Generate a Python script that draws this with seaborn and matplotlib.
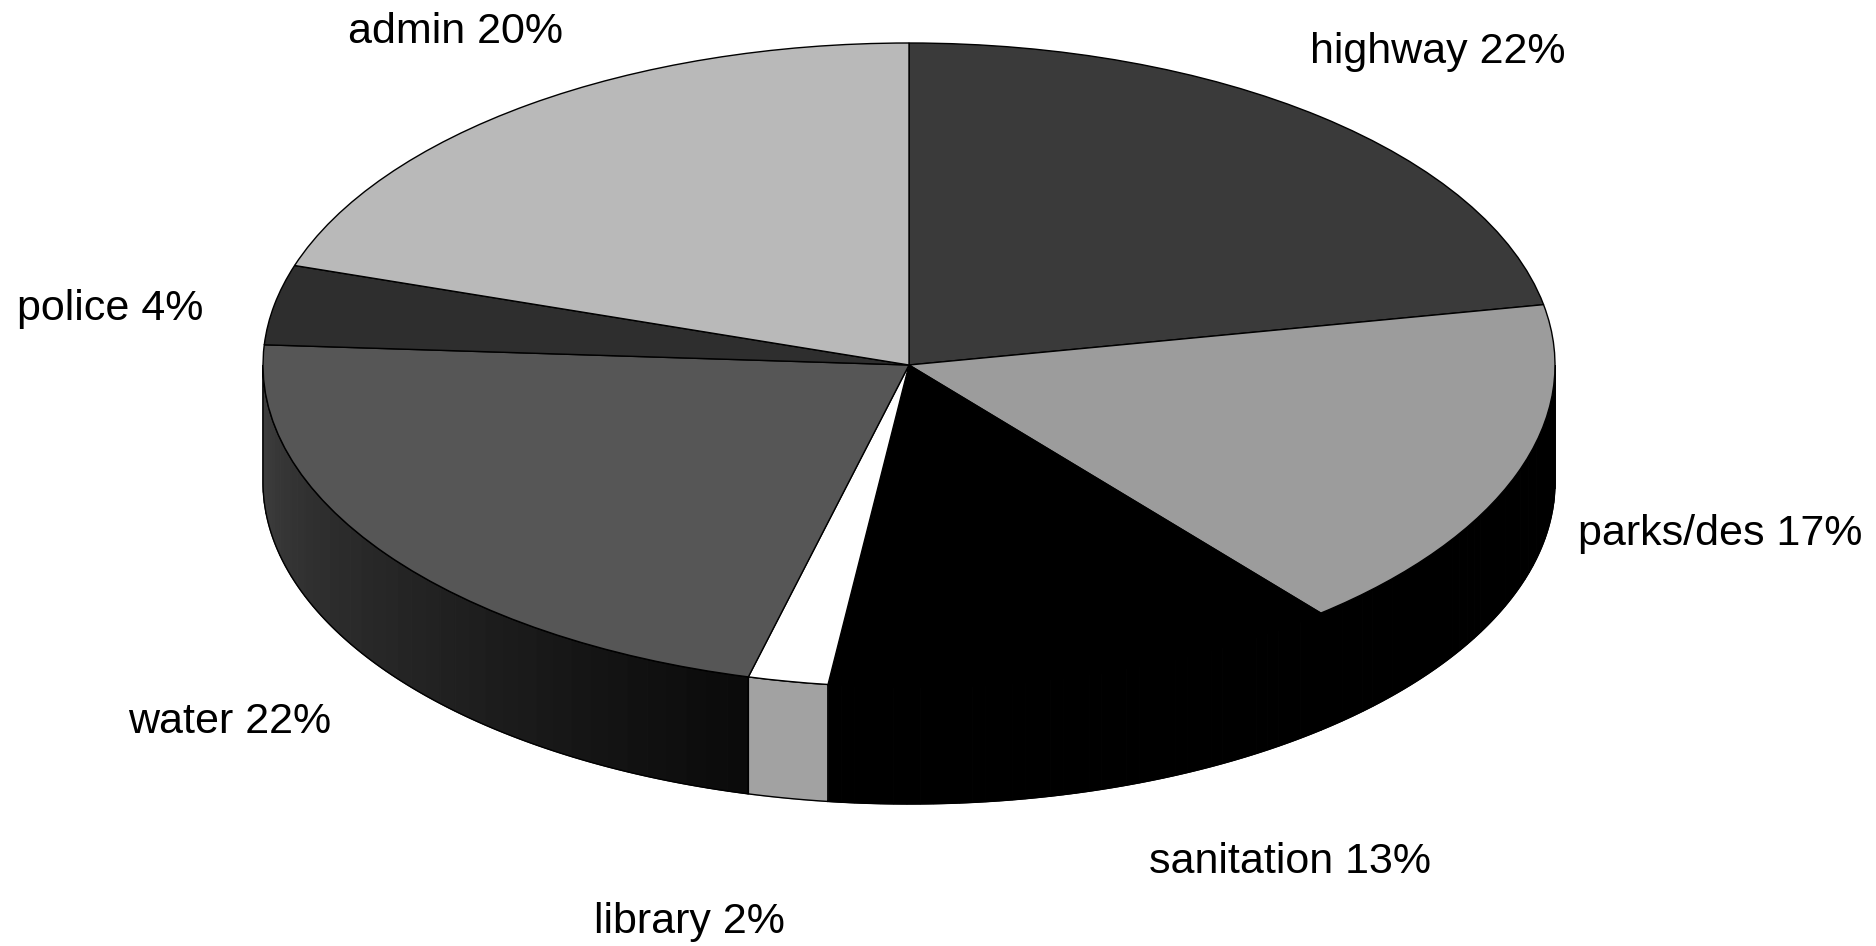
import numpy as np
import matplotlib
matplotlib.use("Agg")
import matplotlib.pyplot as plt
import matplotlib.colors as mcolors
import seaborn as sns

# Dados do gráfico (sentido horário a partir do topo)
categorias = ["highway", "parks/des", "sanitation", "library", "water", "police", "admin"]
percentuais = [22, 17, 13, 2, 22, 4, 20]
cores_topo = ["#3a3a3a", "#9c9c9c", "#000000", "#ffffff", "#565656", "#2e2e2e", "#b9b9b9"]
# lateral: cor na ponta esquerda e na ponta direita do trecho visível
cores_lado = [("#1a1a1a", "#1a1a1a"), ("#000000", "#000000"), ("#000000", "#000000"),
              ("#a2a2a2", "#a2a2a2"), ("#404040", "#0a0a0a"), ("#1a1a1a", "#1a1a1a"),
              ("#8a8a8a", "#8a8a8a")]

sns.set_theme(style="white")
plt.rcParams["font.family"] = ["Liberation Sans", "DejaVu Sans"]

W, H = 1876, 946
cx, cy = 909, 365       # centro da elipse (pixels)
a, b = 646, 322         # semi-eixos
prof = 117 / b          # espessura do disco em unidades do raio

fig = plt.figure(figsize=(W / 100, H / 100), dpi=100)
ax = fig.add_axes([0, 0, 1, 1])

# Laterais visíveis (metade de baixo)
fracs = np.array(percentuais) / sum(percentuais)
ang_ini = 90 - 360 * np.concatenate([[0], np.cumsum(fracs)[:-1]])
ang_fim = ang_ini - 360 * fracs
for i in range(len(categorias)):
    t0, t1 = ang_fim[i], ang_ini[i]
    lo, hi = max(t0, -180), min(t1, 0)
    if lo >= hi:
        lo, hi = max(t0 + 360, -180), min(t1 + 360, 0)
        if lo >= hi:
            continue
    c_esq = np.array(mcolors.to_rgb(cores_lado[i][0]))
    c_dir = np.array(mcolors.to_rgb(cores_lado[i][1]))
    n = 40
    bordas = np.linspace(lo, hi, n + 1)
    for k in range(n):
        t = np.radians(np.linspace(bordas[k], bordas[k + 1], 6))
        xs = np.concatenate([np.cos(t), np.cos(t[::-1])])
        ys = np.concatenate([np.sin(t), np.sin(t[::-1]) - prof])
        f = (k + 0.5) / n
        cor = c_esq * (1 - f) + c_dir * f
        ax.fill(xs, ys, color=cor, linewidth=0.8, edgecolor=cor, zorder=1)
    t = np.radians(np.linspace(lo, hi, 100))
    xs = np.concatenate([np.cos(t), np.cos(t[::-1])])
    ys = np.concatenate([np.sin(t), np.sin(t[::-1]) - prof])
    ax.fill(xs, ys, facecolor="none", edgecolor="black", linewidth=1.0, zorder=1.5)

# Topo da pizza
ax.pie(percentuais, startangle=90, counterclock=False, colors=cores_topo,
       radius=1, center=(0, 0),
       wedgeprops=dict(edgecolor="black", linewidth=1.0, zorder=2))
ax.set_aspect("auto")
ax.set_xlim((0 - cx) / a, (W - cx) / a)
ax.set_ylim((cy - H) / b, cy / b)
ax.axis("off")

# Rótulos
rotulos = [f"{c} {p}%" for c, p in zip(categorias, percentuais)]
pos_rotulos = [(1438, 63), (1720, 545), (1290, 873), (689, 933),
               (230, 733), (110, 320), (455, 43)]
for txt, (px, py) in zip(rotulos, pos_rotulos):
    fig.text(px / W, 1 - py / H, txt, ha="center", va="baseline",
             fontsize=31, color="black")

fig.savefig("out.png", dpi=100, facecolor="white")
plt.close(fig)
